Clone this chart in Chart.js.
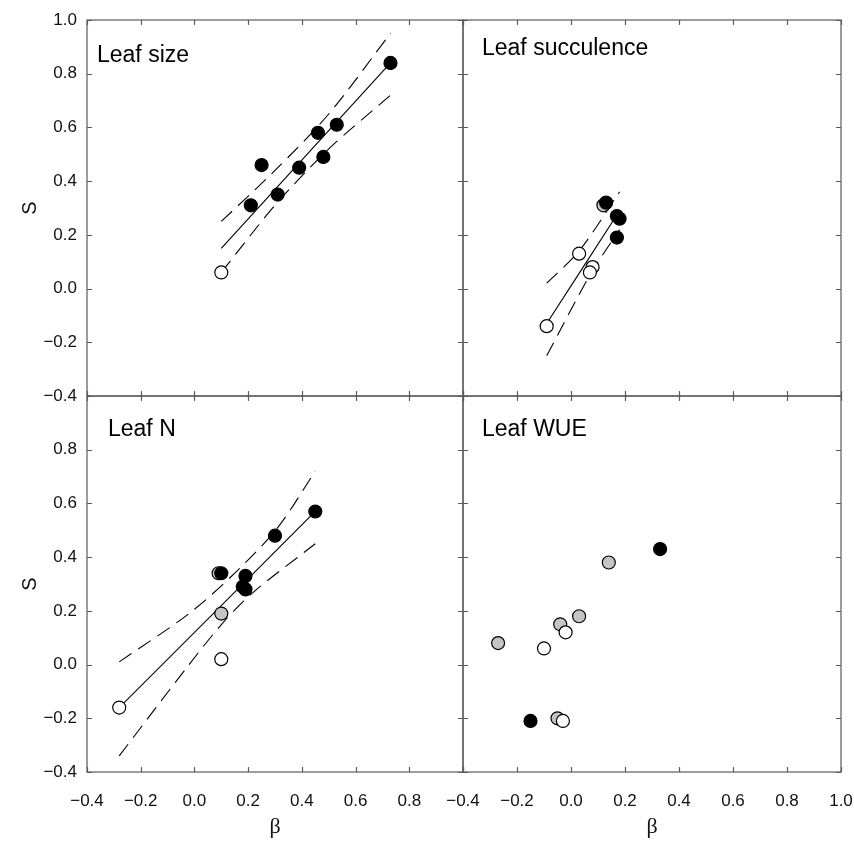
<!DOCTYPE html>
<html>
<head>
<meta charset="utf-8">
<script src="https://cdn.jsdelivr.net/npm/chart.js@4.4.1/dist/chart.umd.min.js"></script>
<style>
  html, body { margin: 0; padding: 0; background: #fff; }
  #wrap { position: relative; width: 854px; height: 841px; }
  #wrap canvas { position: absolute; left: 0; top: 0; }
</style>
</head>
<body>
<div id="wrap">
  <canvas id="sizeChart" width="854" height="841"></canvas>
  <canvas id="succChart" width="854" height="841"></canvas>
  <canvas id="nChart" width="854" height="841"></canvas>
  <canvas id="wueChart" width="854" height="841"></canvas>
</div>
<script>
// 坐标轴刻度
const axisMin = -0.4;
const axisMax = 1.0;
const tickStep = 0.2;

// Leaf size
const sizeBlackX = [0.21, 0.25, 0.31, 0.39, 0.46, 0.48, 0.53, 0.73];
const sizeBlackY = [0.31, 0.46, 0.35, 0.45, 0.58, 0.49, 0.61, 0.84];
const sizeOpenX = [0.10];
const sizeOpenY = [0.06];
const sizeFitX = [0.10, 0.73];
const sizeFitY = [0.15, 0.84];
const sizeUpperX = [0.10, 0.30, 0.50, 0.73];
const sizeUpperY = [0.25, 0.44, 0.65, 0.95];
const sizeLowerX = [0.10, 0.30, 0.50, 0.73];
const sizeLowerY = [0.06, 0.31, 0.52, 0.72];

// Leaf succulence
const succBlackX = [0.13, 0.17, 0.18, 0.17];
const succBlackY = [0.32, 0.27, 0.26, 0.19];
const succOpenX = [0.03, 0.08, 0.07, -0.09];
const succOpenY = [0.13, 0.08, 0.06, -0.14];
const succGreyX = [0.12];
const succGreyY = [0.31];
const succFitX = [-0.09, 0.18];
const succFitY = [-0.13, 0.29];
const succUpperX = [-0.09, 0.03, 0.18];
const succUpperY = [0.02, 0.14, 0.36];
const succLowerX = [-0.09, 0.07, 0.18];
const succLowerY = [-0.25, 0.05, 0.22];

// Leaf N
const nBlackX = [0.10, 0.19, 0.18, 0.19, 0.30, 0.45];
const nBlackY = [0.34, 0.33, 0.29, 0.28, 0.48, 0.57];
const nOpenX = [-0.28, 0.10];
const nOpenY = [-0.16, 0.02];
const nGreyX = [0.10, 0.09];
const nGreyY = [0.19, 0.34];
const nFitX = [-0.28, 0.45];
const nFitY = [-0.16, 0.57];
const nUpperX = [-0.28, -0.02, 0.16, 0.31, 0.45];
const nUpperY = [0.01, 0.19, 0.35, 0.51, 0.72];
const nLowerX = [-0.28, -0.02, 0.11, 0.22, 0.45];
const nLowerY = [-0.34, 0.00, 0.16, 0.27, 0.45];

// Leaf WUE
const wueBlackX = [0.33, -0.15];
const wueBlackY = [0.43, -0.21];
const wueOpenX = [-0.02, -0.10, -0.03];
const wueOpenY = [0.12, 0.06, -0.21];
const wueGreyX = [0.14, 0.03, -0.04, -0.27, -0.05];
const wueGreyY = [0.38, 0.18, 0.15, 0.08, -0.20];

const sans = '"Liberation Sans", Arial, sans-serif';

function pts(xs, ys) {
    return xs.map((v, i) => ({ x: v, y: ys[i] }));
}

function dots(xs, ys, fill) {
    return {
        data: pts(xs, ys),
        backgroundColor: fill,
        borderColor: '#000',
        borderWidth: 1.2,
        pointRadius: 6.5,
        pointHoverRadius: 6.5,
        showLine: false
    };
}

function curve(xs, ys, dash) {
    return {
        data: pts(xs, ys),
        borderColor: '#000',
        borderWidth: 1.1,
        borderDash: dash,
        pointRadius: 0,
        showLine: true,
        tension: 0.3,
        fill: false
    };
}

function fmt(v) {
    if (Math.abs(v) < 1e-9) return '0.0';
    return v.toFixed(1).replace('-', '\u2212');
}

// 边框、内向刻度和面板标题
const framePlugin = {
    id: 'frame',
    beforeDatasetsDraw(chart, args, opts) {
        const { ctx, chartArea: a } = chart;
        const x = chart.scales.x, y = chart.scales.y;
        ctx.save();
        ctx.strokeStyle = '#5a5a5a';
        ctx.lineWidth = 1.2;
        ctx.strokeRect(a.left, a.top, a.right - a.left, a.bottom - a.top);
        ctx.beginPath();
        x.ticks.forEach(t => {
            const px = Math.round(x.getPixelForValue(t.value)) + 0.5;
            ctx.moveTo(px, a.bottom); ctx.lineTo(px, a.bottom - 5);
            ctx.moveTo(px, a.top); ctx.lineTo(px, a.top + 5);
        });
        y.ticks.forEach(t => {
            const py = Math.round(y.getPixelForValue(t.value)) + 0.5;
            ctx.moveTo(a.left, py); ctx.lineTo(a.left + 5, py);
            ctx.moveTo(a.right, py); ctx.lineTo(a.right - 5, py);
        });
        ctx.stroke();
        ctx.fillStyle = '#000';
        ctx.font = '23px ' + sans;
        ctx.fillText(opts.label, a.left + opts.dx, a.top + opts.dy);
        ctx.restore();
    }
};

function panel(id, datasets, cfg) {
    return new Chart(document.getElementById(id), {
        type: 'scatter',
        data: { datasets: datasets },
        options: {
            responsive: false,
            animation: false,
            devicePixelRatio: 1,
            layout: { padding: cfg.padding },
            plugins: {
                legend: { display: false },
                tooltip: { enabled: false },
                frame: { label: cfg.label, dx: cfg.dx, dy: cfg.dy }
            },
            scales: {
                x: {
                    type: 'linear',
                    min: axisMin,
                    max: axisMax,
                    ticks: {
                        stepSize: tickStep,
                        display: cfg.showX,
                        autoSkip: false,
                        maxRotation: 0,
                        padding: 19,
                        color: '#111',
                        font: { family: sans, size: 17 },
                        callback: v => (cfg.hideX1 && Math.abs(v - 1) < 1e-9) ? '' : fmt(v)
                    },
                    grid: { display: false, drawTicks: false },
                    border: { display: false },
                    title: {
                        display: cfg.showX,
                        text: 'β',
                        color: '#111',
                        font: { family: '"Liberation Serif", "Times New Roman", serif', size: 22 },
                        padding: { top: 0, bottom: 1 }
                    },
                    afterFit: s => { s.height = cfg.showX ? 69 : 0; s.paddingLeft = 0; s.paddingRight = 0; }
                },
                y: {
                    type: 'linear',
                    min: axisMin,
                    max: axisMax,
                    ticks: {
                        stepSize: tickStep,
                        display: cfg.showY,
                        autoSkip: false,
                        padding: 10,
                        color: '#111',
                        font: { family: sans, size: 17 },
                        callback: v => (cfg.hideY1 && Math.abs(v - 1) < 1e-9) ? '' : fmt(v)
                    },
                    grid: { display: false, drawTicks: false },
                    border: { display: false },
                    title: {
                        display: cfg.showY,
                        text: 'S',
                        color: '#111',
                        font: { family: sans, size: 20 },
                        padding: { top: 18, bottom: 0 }
                    },
                    afterFit: s => { s.width = cfg.showY ? 87 : 0; s.paddingTop = 0; s.paddingBottom = 0; }
                }
            }
        },
        plugins: [framePlugin]
    });
}

panel('sizeChart', [
    dots(sizeBlackX, sizeBlackY, '#000'),
    dots(sizeOpenX, sizeOpenY, '#fff'),
    curve(sizeFitX, sizeFitY, []),
    curve(sizeUpperX, sizeUpperY, [15, 8]),
    curve(sizeLowerX, sizeLowerY, [15, 8])
], { padding: { left: 0, top: 20, right: 391, bottom: 445 }, showX: false, showY: true,
     label: 'Leaf size', dx: 10, dy: 42 });

panel('succChart', [
    dots(succBlackX, succBlackY, '#000'),
    dots(succOpenX, succOpenY, '#fff'),
    dots(succGreyX, succGreyY, '#c4c4c4'),
    curve(succFitX, succFitY, []),
    curve(succUpperX, succUpperY, [15, 8]),
    curve(succLowerX, succLowerY, [15, 8])
], { padding: { left: 463, top: 20, right: 13, bottom: 445 }, showX: false, showY: false,
     label: 'Leaf succulence', dx: 19, dy: 35 });

panel('nChart', [
    dots(nBlackX, nBlackY, '#000'),
    dots(nOpenX, nOpenY, '#fff'),
    dots(nGreyX, nGreyY, '#c4c4c4'),
    curve(nFitX, nFitY, []),
    curve(nUpperX, nUpperY, [15, 8]),
    curve(nLowerX, nLowerY, [15, 8])
], { padding: { left: 0, top: 396, right: 391, bottom: 0 }, showX: true, showY: true,
     hideX1: true, hideY1: true, label: 'Leaf N', dx: 21, dy: 40 });

panel('wueChart', [
    dots(wueBlackX, wueBlackY, '#000'),
    dots(wueOpenX, wueOpenY, '#fff'),
    dots(wueGreyX, wueGreyY, '#c4c4c4')
], { padding: { left: 463, top: 396, right: 13, bottom: 0 }, showX: true, showY: false,
     label: 'Leaf WUE', dx: 19, dy: 40 });
</script>
</body>
</html>
